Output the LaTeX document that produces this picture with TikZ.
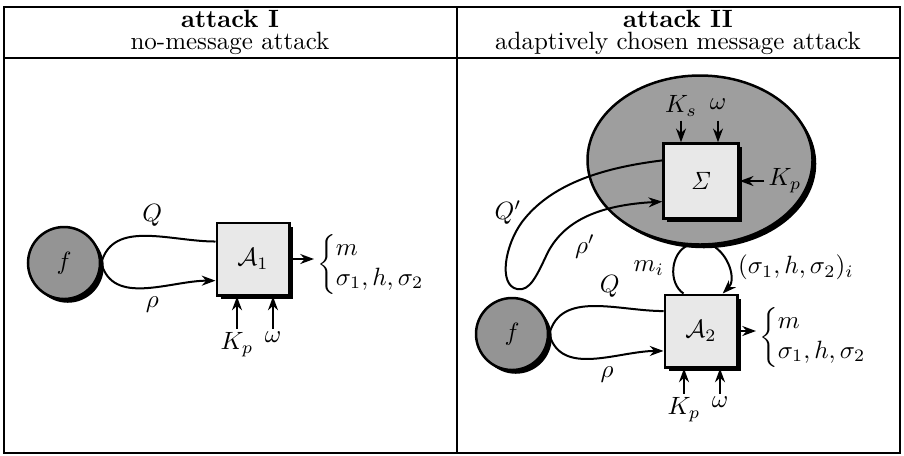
\documentclass[tikz,border=0pt]{standalone}
\usepackage{amsmath}
\usepackage{amssymb}
\usetikzlibrary{arrows.meta,shapes.geometric,shadows}

\tikzset{
  shade/.style={drop shadow={shadow xshift=1.5pt,shadow yshift=-1.5pt,fill=black,opacity=1}},
  agent/.style={draw,fill=black!9,line width=1pt,minimum size=29pt,inner sep=0pt,shade},
  source/.style={circle,draw,fill=black!42,line width=1pt,minimum size=28.8pt,inner sep=0pt,shade},
  oracle/.style={ellipse,draw,fill=black!38,line width=1pt,minimum width=90pt,minimum height=67.6pt,shade},
  flow/.style={line width=0.8pt},
  feed/.style={flow,-{Stealth[length=5.5pt,width=4pt]}},
  lab/.style={inner sep=1.5pt},
  head/.style={font=\bfseries,inner sep=1pt},
  sub/.style={inner sep=1pt},
}

\begin{document}
\begin{tikzpicture}[x=0.4pt,y=0.4pt]
  \useasboundingbox (0,0) rectangle (904,-455);

  % table frame
  \draw[line width=0.6pt] (4,-7) rectangle (900,-453);
  \draw[line width=0.6pt] (4,-58) -- (900,-58);
  \draw[line width=0.6pt] (457,-7) -- (457,-453);

  \node[head] (t1) at (230,-19) {attack I};
  \node[sub] (s1) at (230,-43) {no-message attack};
  \node[head] (t2) at (678,-19) {attack II};
  \node[sub] (s2) at (678,-43) {adaptively chosen message attack};

  % attack I
  \node[source] (f1) at (64,-263) {$f$};
  \node[agent] (A1) at (253,-259) {$\mathcal{A}_1$};
  \node[anchor=west,inner sep=1pt] (o1) at (314,-264)
    {$\left\{\begin{array}{@{}l@{}} m\\ \sigma_1,h,\sigma_2\end{array}\right.$};
  \node[lab] (kp1) at (237,-345) {$K_p$};
  \node[lab] (w1) at (273,-337) {$\omega$};

  \draw[flow] (f1.east) to[out=75,in=180] node[pos=0.55,above] {$Q$} (A1.155);
  \draw[feed] (f1.east) to[out=-75,in=180] node[pos=0.55,below] {$\rho$} (A1.210);
  \draw[feed] (A1.east) -- (A1.east -| o1.west);
  \draw[feed] (kp1.north) -- (kp1.north |- A1.south);
  \draw[feed] (w1.north |- kp1.north) -- (w1.north |- A1.south);

  % attack II
  \node[oracle] (orc) at (700,-160) {};
  \node[agent,minimum size=30pt] (Sig) at (701,-181) {$\mathit{\Sigma}$};
  \node[lab] (ks) at (681,-106) {$K_s$};
  \node[lab] (w3) at (718,-104) {$\omega$};
  \node[lab] (kp3) at (785,-181) {$K_p$};

  \draw[feed] (ks.south) -- (ks.south |- Sig.north);
  \draw[feed] (w3.south |- ks.south) -- (w3.south |- Sig.north);
  \draw[feed] (kp3.west) -- (kp3.west -| Sig.east);

  \node[source] (f2) at (512,-334) {$f$};
  \node[agent] (A2) at (701,-331) {$\mathcal{A}_2$};
  \node[anchor=west,inner sep=1pt] (o2) at (756,-337)
    {$\left\{\begin{array}{@{}l@{}} m\\ \sigma_1,h,\sigma_2\end{array}\right.$};
  \node[lab] (kp2) at (684,-410) {$K_p$};
  \node[lab] (w2) at (720,-402) {$\omega$};

  \draw[flow] (f2.east) to[out=75,in=180] node[pos=0.62,above] {$Q$} (A2.152);
  \draw[feed] (f2.east) to[out=-75,in=180] node[pos=0.6,below] {$\rho$} (A2.208);
  \draw[feed] (A2.east) -- (A2.east -| o2.west);
  \draw[feed] (kp2.north) -- (kp2.north |- A2.south);
  \draw[feed] (w2.north |- kp2.north) -- (w2.north |- A2.south);

  % queries to the signer and its answers
  \draw[flow] (orc.262) to[out=203,in=146] node[left] {$m_i$} (A2.115);
  \draw[feed] (orc.278) to[out=-28,in=45] node[right] {$(\sigma_1,h,\sigma_2)_i$} (A2.60);

  \draw[feed] (Sig.152) .. controls (600,-168) and (550,-185) .. (522,-222)
    .. controls (505,-245) and (498,-285) .. (517,-289)
    .. controls (530,-292) and (537,-275) .. (548,-252)
    .. controls (565,-220) and (600,-205) .. (Sig.208);
  \node (lq) at (508,-213) {$Q'$};
  \node (lr) at (585,-247) {$\rho'$};
\end{tikzpicture}
\end{document}
